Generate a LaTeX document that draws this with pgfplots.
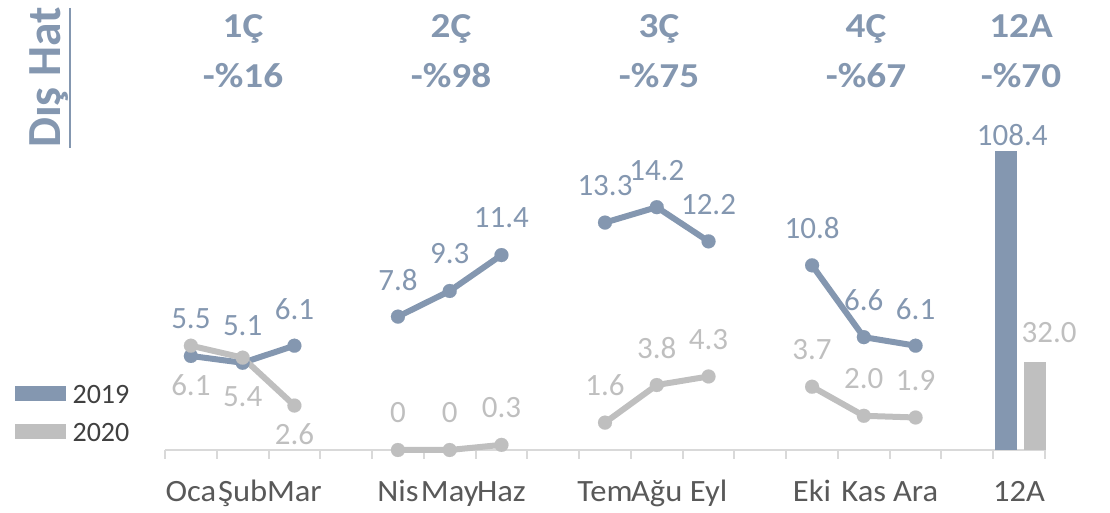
\documentclass[border=0pt]{standalone}
\usepackage{fontspec}
\setmainfont{Carlito}
\usepackage{pgfplots}
\pgfplotsset{compat=1.18}
\definecolor{c19}{HTML}{8497B0}
\definecolor{c20}{HTML}{BFBFBF}
\definecolor{axgray}{HTML}{D9D9D9}
\definecolor{lbl}{HTML}{595959}
\definecolor{leg}{HTML}{404040}

\pgfplotsset{
  base/.style={scale only axis, width=880pt, height=342pt,
    at={(165pt,63pt)}, anchor=south west, xmin=-0.5, xmax=16.5, clip=false},
  lbase/.style={line width=6pt, line join=round, mark=*, mark size=7pt,
    mark options={line width=0.1pt}, nodes near coords,
    point meta=explicit symbolic, forget plot,
    every node near coord/.append style={font=\fontsize{31}{36}\selectfont,
      anchor=center, inner sep=0pt}},
  s19/.style={lbase, c19, every node near coord/.append style={text=c19, yshift=37pt}},
  s20/.style={lbase, c20, every node near coord/.append style={text=c20, yshift=37pt}},
  s20b/.style={lbase, c20, every node near coord/.append style={text=c20, yshift=-39pt}},
}

\begin{document}
\begin{tikzpicture}[x=1pt,y=1pt]
\path[use as bounding box] (0,0) rectangle (1110,513);

% monthly lines (2019 / 2020)
\begin{axis}[base, ymin=0, ymax=20,
    axis y line=none, axis x line*=bottom,
    x axis line style={axgray, line width=2pt, -},
    xtick={0,...,16},
    xticklabels={Oca,Şub,Mar,,Nis,May,Haz,,Tem,Ağu,Eyl,,Eki,Kas,Ara,,12A},
    major tick length=0pt,
    minor xtick={-0.5,0.5,...,16.5},
    minor tick length=9pt, tick align=outside,
    minor tick style={axgray, line width=2pt},
    xticklabel style={font=\fontsize{31}{36}\selectfont, text=lbl,
      anchor=base, yshift=-52pt, inner sep=0pt, xscale=1.05},
    legend style={at={(axis description cs:-0.1705,0.19)}, anchor=north west,
      draw=none, fill=none, inner sep=0pt, row sep=18pt, column sep=7pt,
      font=\fontsize{28}{32}\selectfont, text=leg, nodes={inner sep=0pt}},
    legend cell align=left,
    legend image code/.code={\fill (0pt,-5.3pt) rectangle (50pt,8.7pt);},
  ]
\addlegendimage{c19}\addlegendentry{2019}
\addlegendimage{c20}\addlegendentry{2020}

\addplot[s19] coordinates {(0,5.5) [5.5] (1,5.1) [5.1] (2,6.1) [6.1]};
\addplot[s19] coordinates {(4,7.8) [7.8] (5,9.3) [9.3] (6,11.4) [11.4]};
\addplot[s19] coordinates {(8,13.3) [13.3] (9,14.2) [14.2] (10,12.2) [12.2]};
\addplot[s19] coordinates {(12,10.8) [10.8] (13,6.6) [6.6] (14,6.1) [6.1]};

\addplot[s20b] coordinates {(0,6.1) [6.1] (1,5.4) [5.4] (2,2.6) []};
\addplot[only marks, mark=none, nodes near coords, point meta=explicit symbolic,
  forget plot, every node near coord/.append style={font=\fontsize{31}{36}\selectfont,
    text=c20, anchor=center, inner sep=0pt, yshift=-29pt}]
  coordinates {(2,2.6) [2.6]};
\addplot[s20] coordinates {(4,0) [0] (5,0) [0] (6,0.3) [0.3]};
\addplot[s20] coordinates {(8,1.6) [1.6] (9,3.8) [3.8] (10,4.3) [4.3]};
\addplot[s20] coordinates {(12,3.7) [3.7] (13,2.0) [2.0] (14,1.9) [1.9]};
\end{axis}

% 12-month totals (secondary scale)
\begin{axis}[base, ymin=0, ymax=124, hide axis]
\addplot[ybar, bar width=22pt, bar shift=0pt, fill=c19, draw=none,
  nodes near coords, point meta=explicit symbolic,
  every node near coord/.append style={font=\fontsize{31}{36}\selectfont,
    text=c19, anchor=center, inner sep=0pt, xshift=6pt, yshift=16pt}]
  coordinates {(15.75,108.4) [108.4]};
\addplot[ybar, bar width=22pt, bar shift=0pt, fill=c20, draw=none,
  nodes near coords, point meta=explicit symbolic,
  every node near coord/.append style={font=\fontsize{31}{36}\selectfont,
    text=c20, anchor=center, inner sep=0pt, xshift=14pt, yshift=29pt}]
  coordinates {(16.31,32.0) [32.0]};
\end{axis}

% quarter headers
\begin{scope}[every node/.style={anchor=base, text=c19, xscale=1.12,
    font=\fontsize{35}{40}\selectfont\bfseries}]
\node at (243,475) {1Ç};  \node at (243,425) {-\%16};
\node at (451,475) {2Ç};  \node at (451,425) {-\%98};
\node at (659,475) {3Ç};  \node at (659,425) {-\%75};
\node at (866,475) {4Ç};  \node at (866,425) {-\%67};
\node at (1021,475) {12A}; \node at (1021,425) {-\%70};
\end{scope}

\node[rotate=90, anchor=base, text=c19, font=\fontsize{47.5}{56}\selectfont\bfseries]
  at (60,435.5) {Dış Hat};
\draw[c19, line width=2.5pt] (70,505) -- (70,365);
\end{tikzpicture}
\end{document}
